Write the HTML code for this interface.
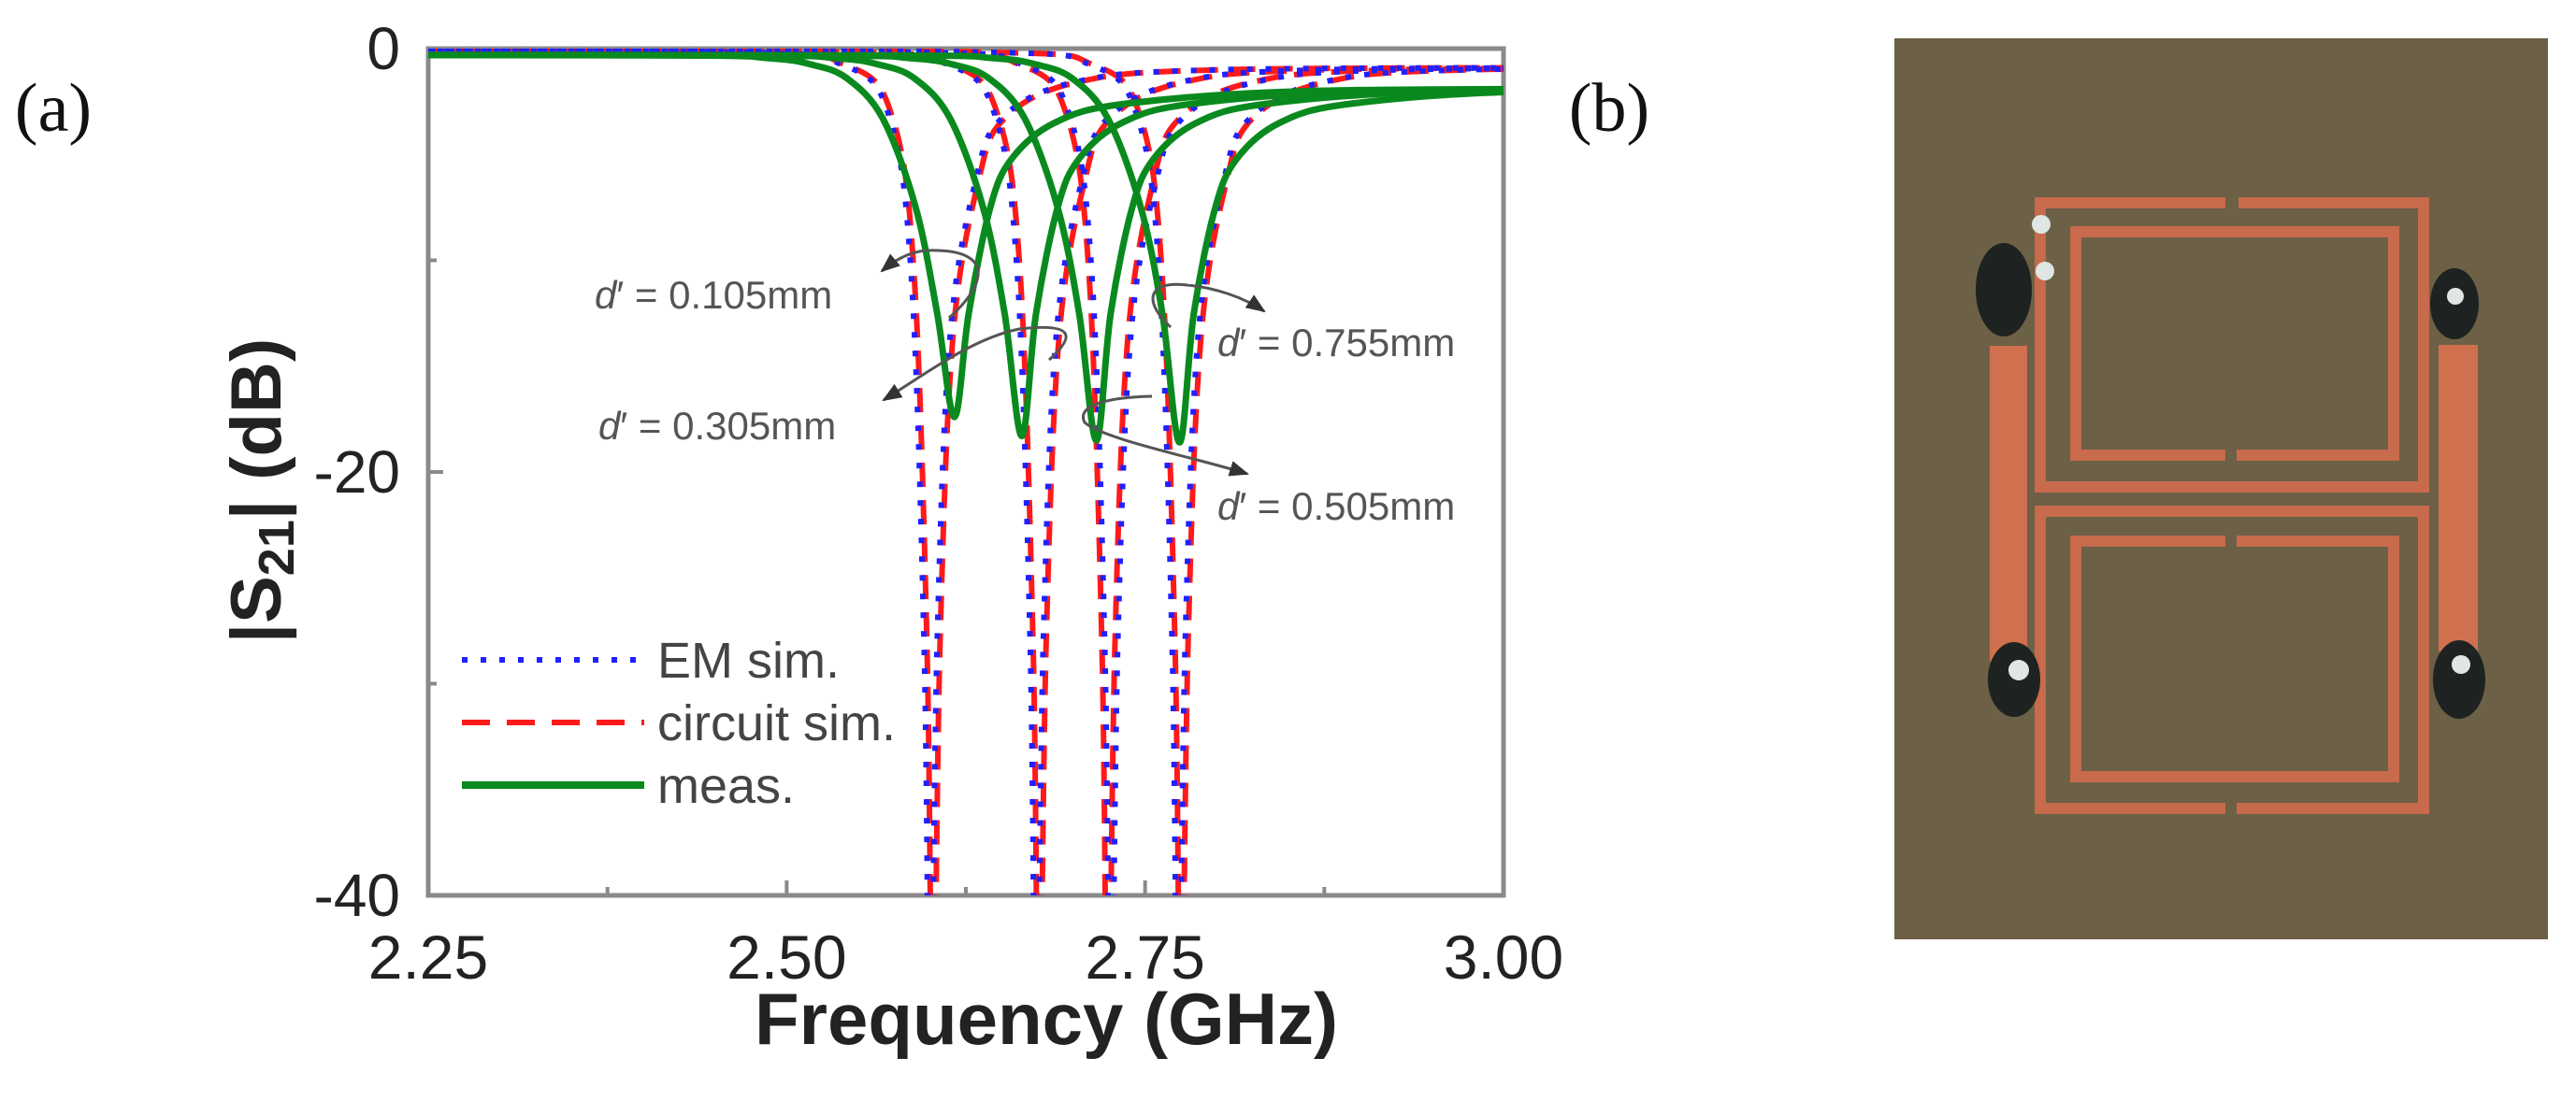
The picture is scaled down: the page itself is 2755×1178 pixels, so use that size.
<!DOCTYPE html>
<html><head><meta charset="utf-8"><style>
html,body{margin:0;padding:0;background:#fff;}
svg{display:block;}
text{font-family:"Liberation Sans",sans-serif;}
</style></head><body>
<svg id="fig" width="2755" height="1178" viewBox="0 0 2755 1178" xmlns="http://www.w3.org/2000/svg">
<defs>
<clipPath id="plotclip"><rect x="458" y="52" width="1150" height="906"/></clipPath>
<marker id="arr" viewBox="0 0 10 10" refX="9" refY="5" markerWidth="7" markerHeight="7" orient="auto"><path d="M0,1 L10,5 L0,9 z" fill="#333"/></marker>
</defs>
<text x="57" y="140" font-size="74" fill="#111" text-anchor="middle" style="font-family:'Liberation Serif',serif">(a)</text>
<text x="1721" y="140" font-size="74" fill="#111" text-anchor="middle" style="font-family:'Liberation Serif',serif">(b)</text>
<g id="chart"></g>
<g id="photo" transform="translate(2026,41)">
<rect x="0" y="0" width="699" height="964" fill="#6c6046"/>
<g fill="none" stroke="#c86a4c" stroke-width="12">
<path d="M354,176 L156,176 L156,480 L566,480 L566,176 L368,176"/>
<path d="M354,446 L194,446 L194,207 L534,207 L534,446 L366,446"/>
<path d="M354,824 L156,824 L156,506 L566,506 L566,824 L366,824"/>
<path d="M354,538 L194,538 L194,790 L534,790 L534,538 L366,538"/>
</g>
<rect x="102" y="329" width="40" height="338" fill="#d0704f"/>
<rect x="582" y="328" width="42" height="328" fill="#d0704f"/>
<g fill="#1e2220">
<ellipse cx="117" cy="269" rx="30" ry="50"/>
<ellipse cx="599" cy="284" rx="26" ry="38"/>
<ellipse cx="128" cy="686" rx="28" ry="40"/>
<ellipse cx="604" cy="686" rx="28" ry="42"/>
</g>
<g fill="#dfe6e4">
<circle cx="157" cy="199" r="10"/><circle cx="161" cy="249" r="10"/>
<circle cx="600" cy="276" r="9"/><circle cx="133" cy="676" r="11"/><circle cx="606" cy="670" r="10"/>
</g>
</g>
</svg>
<script>
const NS='http://www.w3.org/2000/svg';
const xTicks=[2.25,2.50,2.75,3.00];
const xTickLabels=['2.25','2.50','2.75','3.00'];
const xMinor=[2.375,2.625,2.875];
const yTicks=[0,-20,-40];
const yTickLabels=['0','-20','-40'];
const yMinor=[-10,-30];
const notchMeas=[2.617,2.664,2.716,2.774];
const depthMeas=[-17.4,-18.3,-18.5,-18.6];
const notchEM=[2.600,2.674,2.726,2.773];
const notchCirc=[2.602,2.676,2.724,2.775];
const measOffsets=[-0.6,-0.2,-0.13,-0.1,-0.075,-0.05,-0.027,-0.012,0,0.01,0.025,0.04,0.07,0.12,0.25,0.5];
const measDB=[-0.3,-0.32,-0.45,-0.75,-1.4,-3.3,-7.5,-12.5,null,-12.5,-7.5,-5.2,-3.5,-2.6,-2.0,-1.9];
const simOffsets=[-0.6,-0.15,-0.06,-0.028,-0.013,-0.004,0,0.005,0.014,0.032,0.05,0.1,0.2,0.5];
const simDB=[-0.1,-0.15,-0.8,-3.3,-10.8,-28.6,-48,-28,-13.6,-6.2,-3.3,-1.6,-1.0,-0.9];
const legendLabels=['EM sim.','circuit sim.','meas.'];
const annoLabels=['0.105mm','0.305mm','0.755mm','0.505mm'];

const L=458,R=1608,T=52,B=958;
const xS=f=>L+(f-2.25)/(0.75)*(R-L);
const yS=d=>T+(0-d)/40*(B-T);
const g=document.getElementById('chart');
function mk(tag,attrs,parent){const e=document.createElementNS(NS,tag);for(const k in attrs)e.setAttribute(k,attrs[k]);(parent||g).appendChild(e);return e;}
function crPath(pts){let d='M'+pts[0][0].toFixed(1)+','+pts[0][1].toFixed(1);
 for(let i=0;i<pts.length-1;i++){const p0=pts[i-1]||pts[i],p1=pts[i],p2=pts[i+1],p3=pts[i+2]||p2;
 const c1=[p1[0]+(p2[0]-p0[0])/6,p1[1]+(p2[1]-p0[1])/6],c2=[p2[0]-(p3[0]-p1[0])/6,p2[1]-(p3[1]-p1[1])/6];
 d+=' C'+c1.map(v=>v.toFixed(1)).join(',')+' '+c2.map(v=>v.toFixed(1)).join(',')+' '+p2[0].toFixed(1)+','+p2[1].toFixed(1);}return d;}

const frame=mk('rect',{x:L,y:T,width:R-L,height:B-T,fill:'none',stroke:'#8a8a8a','stroke-width':5});


xTicks.forEach((f,i)=>{
 const t=mk('line',{x1:xS(f),x2:xS(f),y1:B,y2:B-16,stroke:'#8a8a8a','stroke-width':4});
 
 
 const tx=mk('text',{x:xS(f),y:1047,'font-size':66,fill:'#222','text-anchor':'middle'});
 tx.textContent=xTickLabels[i];
 
 
});
xMinor.forEach(f=>{
 const t=mk('line',{x1:xS(f),x2:xS(f),y1:B,y2:B-9,stroke:'#8a8a8a','stroke-width':4});
 
 
});
yTicks.forEach((d,i)=>{
 const t=mk('line',{x1:L,x2:L+16,y1:yS(d),y2:yS(d),stroke:'#8a8a8a','stroke-width':4});
 
 
 const tx=mk('text',{x:428,y:yS(d)+22,'font-size':64,fill:'#222','text-anchor':'end'});
 tx.textContent=yTickLabels[i];
 
 
});
yMinor.forEach(d=>{
 const t=mk('line',{x1:L,x2:L+9,y1:yS(d),y2:yS(d),stroke:'#8a8a8a','stroke-width':4});
 
 
});
const xt=mk('text',{x:1119,y:1117,'font-size':78,'font-weight':'bold',fill:'#222','text-anchor':'middle'});
xt.textContent='Frequency (GHz)';


const yt=mk('text',{transform:'translate(300,525) rotate(-90)','font-size':76,'font-weight':'bold',fill:'#222','text-anchor':'middle'});
yt.innerHTML='|S<tspan font-size="54" dy="14">21</tspan><tspan dy="-14">| (dB)</tspan>';



const curves=mk('g',{'clip-path':'url(#plotclip)'});


function simPts(f0){return simOffsets.map((o,i)=>[xS(f0+o),yS(simDB[i])]);}
notchCirc.forEach(f0=>{
 const p=mk('path',{d:crPath(simPts(f0)),fill:'none',stroke:'#ff1a1a','stroke-width':6,'stroke-dasharray':'26 14'},curves);
 
 
});
notchEM.forEach(f0=>{
 const p=mk('path',{d:crPath(simPts(f0)),fill:'none',stroke:'#2020ff','stroke-width':6,'stroke-dasharray':'6 14'},curves);
 
 
});
notchMeas.forEach((f0,k)=>{
 const pts=measOffsets.map((o,i)=>[xS(f0+o),yS(measDB[i]===null?depthMeas[k]:measDB[i])]);
 const p=mk('path',{d:crPath(pts),fill:'none',stroke:'#0a8a1e','stroke-width':7},curves);
 
 
});

const lg=mk('g',{});


const lstyles=[{stroke:'#2020ff','stroke-dasharray':'6 14','stroke-width':6},{stroke:'#ff1a1a','stroke-dasharray':'30 18','stroke-width':6},{stroke:'#0a8a1e','stroke-width':8}];
legendLabels.forEach((lab,i)=>{
 const y=706+i*67;
 const ln=mk('line',Object.assign({x1:494,x2:689,y1:y,y2:y},lstyles[i]),lg);
 
 
 const tx=mk('text',{x:703,y:y+19,'font-size':54,fill:'#444'},lg);
 tx.textContent=lab;
 
 
});

const annoPos=[[636,330],[640,470],[1302,381],[1302,556]];
const arrowPaths=['M1015,340 C1060,300 1060,265 990,268 C970,270 955,280 943,290',
'M1122,385 C1150,360 1150,345 1090,352 C1040,362 990,400 945,428',
'M1252,350 C1220,320 1230,300 1270,305 C1300,308 1330,318 1352,333',
'M1232,424 C1190,425 1150,432 1160,452 C1180,470 1280,490 1334,507'];
annoLabels.forEach((lab,i)=>{
 const tx=mk('text',{x:annoPos[i][0],y:annoPos[i][1],'font-size':42,fill:'#555'});
 tx.innerHTML='<tspan font-style="italic">d</tspan>\u2032 = '+lab;
 
 
 const a=mk('path',{d:arrowPaths[i],fill:'none',stroke:'#555','stroke-width':3,'marker-end':'url(#arr)'});
 
 
});
</script>
</body></html>
